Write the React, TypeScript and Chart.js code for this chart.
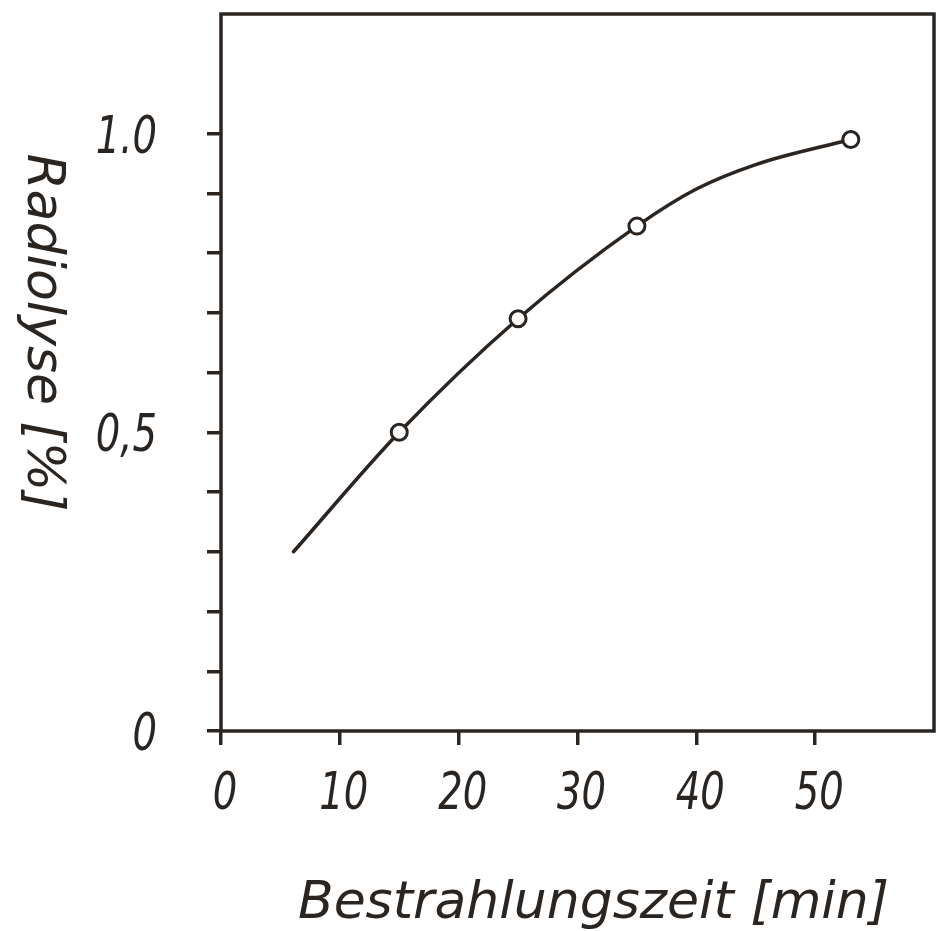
import React, { useEffect, useRef } from 'react';
import { Chart, registerables } from 'chart.js';

Chart.register(...registerables);

const INK = '#2b2522';

// measured points (open circles)
const measuredTime = [15, 25, 35, 53];
const measuredRadiolysis = [0.5, 0.69, 0.845, 0.99];

// hand-drawn smooth curve
const curveTime = [6.1, 15, 25, 35, 40, 45, 53];
const curveRadiolysis = [0.3, 0.5, 0.69, 0.845, 0.907, 0.948, 0.99];

// axis ticks and labels
const xTickValues = [0, 10, 20, 30, 40, 50];
const xTickLabels = ['0', '10', '20', '30', '40', '50'];
const yTickValues = [0, 0.5, 1.0];
const yTickLabels = ['0', '0,5', '1.0'];

const xTitle = 'Bestrahlungszeit [min]';
const yTitle = 'Radiolyse [%]';

const TRANSPARENT = 'rgba(0,0,0,0)';
const LETTER_FONT = 'italic 52px "DejaVu Sans"';

const frameAndText = {
  id: 'frameAndText',
  beforeDraw(chart: any) {
    const { ctx, width, height } = chart;
    ctx.save();
    ctx.fillStyle = '#ffffff';
    ctx.fillRect(0, 0, width, height);
    ctx.restore();
  },
  afterDraw(chart: any) {
    const { ctx, chartArea: a, scales } = chart;
    ctx.save();
    ctx.strokeStyle = INK;
    ctx.lineWidth = 3.5;
    ctx.lineJoin = 'miter';
    ctx.strokeRect(a.left, a.top, a.right - a.left, a.bottom - a.top);

    ctx.fillStyle = INK;
    ctx.font = LETTER_FONT;
    ctx.textBaseline = 'alphabetic';

    // tick labels (narrow technical lettering)
    const sx = 0.74;
    ctx.textAlign = 'center';
    xTickValues.forEach((v, i) => {
      const px = scales.x.getPixelForValue(v);
      ctx.save();
      ctx.translate(px + 4, a.bottom + 78);
      ctx.scale(sx, 1);
      ctx.fillText(xTickLabels[i], 0, 0);
      ctx.restore();
    });
    ctx.textAlign = 'right';
    yTickValues.forEach((v, i) => {
      const py = scales.y.getPixelForValue(v);
      ctx.save();
      ctx.translate(a.left - 64, py + 19);
      ctx.scale(sx, 1);
      ctx.fillText(yTickLabels[i], 0, 0);
      ctx.restore();
    });

    // axis titles
    ctx.textAlign = 'center';
    ctx.fillText(xTitle, (a.left + a.right) / 2 + 16, a.bottom + 187);

    ctx.translate(a.left - 193, (a.top + a.bottom) / 2 - 40);
    ctx.rotate(Math.PI / 2);
    ctx.fillText(yTitle, 0, 0);
    ctx.restore();
  },
};

export default function App() {
  const ref = useRef<HTMLCanvasElement | null>(null);

  useEffect(() => {
    if (!ref.current) return;
    const chart = new Chart(ref.current, {
      type: 'scatter',
      data: {
        datasets: [
          {
            label: 'Messwerte',
            data: measuredTime.map((x, i) => ({ x, y: measuredRadiolysis[i] })),
            showLine: false,
            pointRadius: 8,
            pointBorderWidth: 3,
            pointBackgroundColor: '#ffffff',
            pointBorderColor: INK,
          },
          {
            label: 'Kurve',
            data: curveTime.map((x, i) => ({ x, y: curveRadiolysis[i] })),
            showLine: true,
            cubicInterpolationMode: 'monotone',
            pointRadius: 0,
            borderWidth: 3.5,
            borderColor: INK,
            borderCapStyle: 'round',
            fill: false,
          } as any,
        ],
      },
      options: {
        animation: false,
        responsive: false,
        devicePixelRatio: 1,
        layout: { padding: { top: 14, right: 3, left: 0, bottom: 0 } },
        plugins: { legend: { display: false }, tooltip: { enabled: false } },
        scales: {
          x: {
            type: 'linear',
            position: 'bottom',
            min: 0,
            max: 60,
            afterFit(s: any) {
              s.height = 200;
              s.paddingLeft = 0;
              s.paddingRight = 0;
            },
            ticks: { stepSize: 10, autoSkip: false, display: false },
            grid: {
              drawOnChartArea: false,
              drawTicks: true,
              tickLength: 14,
              lineWidth: 3.5,
              color: (c: any) => (c.tick && c.tick.value < 59.5 ? INK : TRANSPARENT),
            },
            border: { display: false },
          },
          y: {
            type: 'linear',
            min: 0,
            max: 1.2,
            afterFit(s: any) {
              s.width = 221;
              s.paddingTop = 0;
              s.paddingBottom = 0;
            },
            ticks: { stepSize: 0.1, autoSkip: false, display: false },
            grid: {
              drawOnChartArea: false,
              drawTicks: true,
              tickLength: 14,
              lineWidth: 3.5,
              color: (c: any) => (c.tick && Math.round(c.tick.value * 10) <= 10 ? INK : TRANSPARENT),
            },
            border: { display: false },
          },
        },
      },
      plugins: [frameAndText],
    });
    return () => chart.destroy();
  }, []);

  return (
    <div style={{ position: 'fixed', left: 0, top: 0, width: 945, height: 931, background: '#fff' }}>
      <canvas ref={ref} width={945} height={931} style={{ display: 'block' }} />
    </div>
  );
}
